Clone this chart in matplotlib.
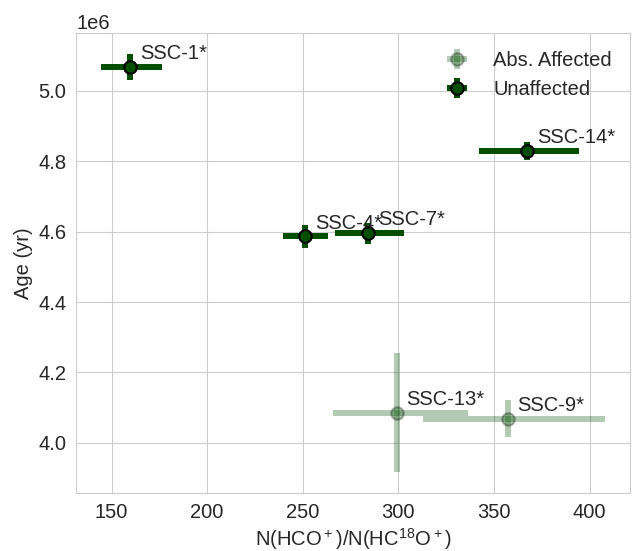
import matplotlib
matplotlib.use("Agg")
import matplotlib.pyplot as plt
import seaborn as sns
import numpy as np

sns.set_style("whitegrid")
plt.rcParams['font.family'] = ['Liberation Sans', 'DejaVu Sans']
plt.rcParams['mathtext.default'] = 'regular'

# Unaffected
un_names = ["SSC-1*", "SSC-4*", "SSC-7*", "SSC-14*"]
un_x = [159.7, 251.4, 284.2, 367.3]
un_y = [5.068e6, 4.587e6, 4.596e6, 4.829e6]
un_xerr_lo = [15.1, 12.0, 17.2, 25.0]
un_xerr_hi = [16.7, 12.0, 18.8, 27.1]
un_yerr = [0.037e6, 0.033e6, 0.030e6, 0.025e6]

# Absorption affected
ab_names = ["SSC-13*", "SSC-9*"]
ab_x = [299.1, 357.2]
ab_y = [4.085e6, 4.069e6]
ab_xerr_lo = [33.2, 44.3]
ab_xerr_hi = [37.3, 50.7]
ab_yerr_lo = [0.168e6, 0.052e6]
ab_yerr_hi = [0.171e6, 0.052e6]

color = '#004f00'
fs = 14.5
tc = '#262626'

fig = plt.figure(figsize=(6.32, 5.51), dpi=100)
ax = fig.add_axes([76/632, 1-493/551, (630-76)/632, (493-33)/551])

ax.errorbar(ab_x, ab_y, xerr=[ab_xerr_lo, ab_xerr_hi], yerr=[ab_yerr_lo, ab_yerr_hi],
            fmt='o', color=color, ecolor=color, elinewidth=4.3, ms=9,
            mec='black', mew=1.5, alpha=0.3, label='Abs. Affected')
ax.errorbar(un_x, un_y, xerr=[un_xerr_lo, un_xerr_hi], yerr=un_yerr,
            fmt='o', color=color, ecolor=color, elinewidth=4.3, ms=9,
            mec='black', mew=1.5, label='Unaffected')

for n, x, y in zip(un_names + ab_names, un_x + ab_x, un_y + ab_y):
    ax.annotate(n, (x, y), xytext=(7, 5.5), textcoords='offset points', fontsize=fs, color=tc)

ax.set_xlabel(r'N(HCO$^+$)/N(HC$^{18}$O$^+$)', fontsize=fs, color=tc, labelpad=3)
ax.set_ylabel('Age (yr)', fontsize=fs, color=tc)
ax.tick_params(labelsize=fs, colors=tc)
ax.yaxis.get_offset_text().set_fontsize(fs)
ax.legend(loc='upper right', fontsize=fs, frameon=False)

fig.savefig('out.png', dpi=100)
